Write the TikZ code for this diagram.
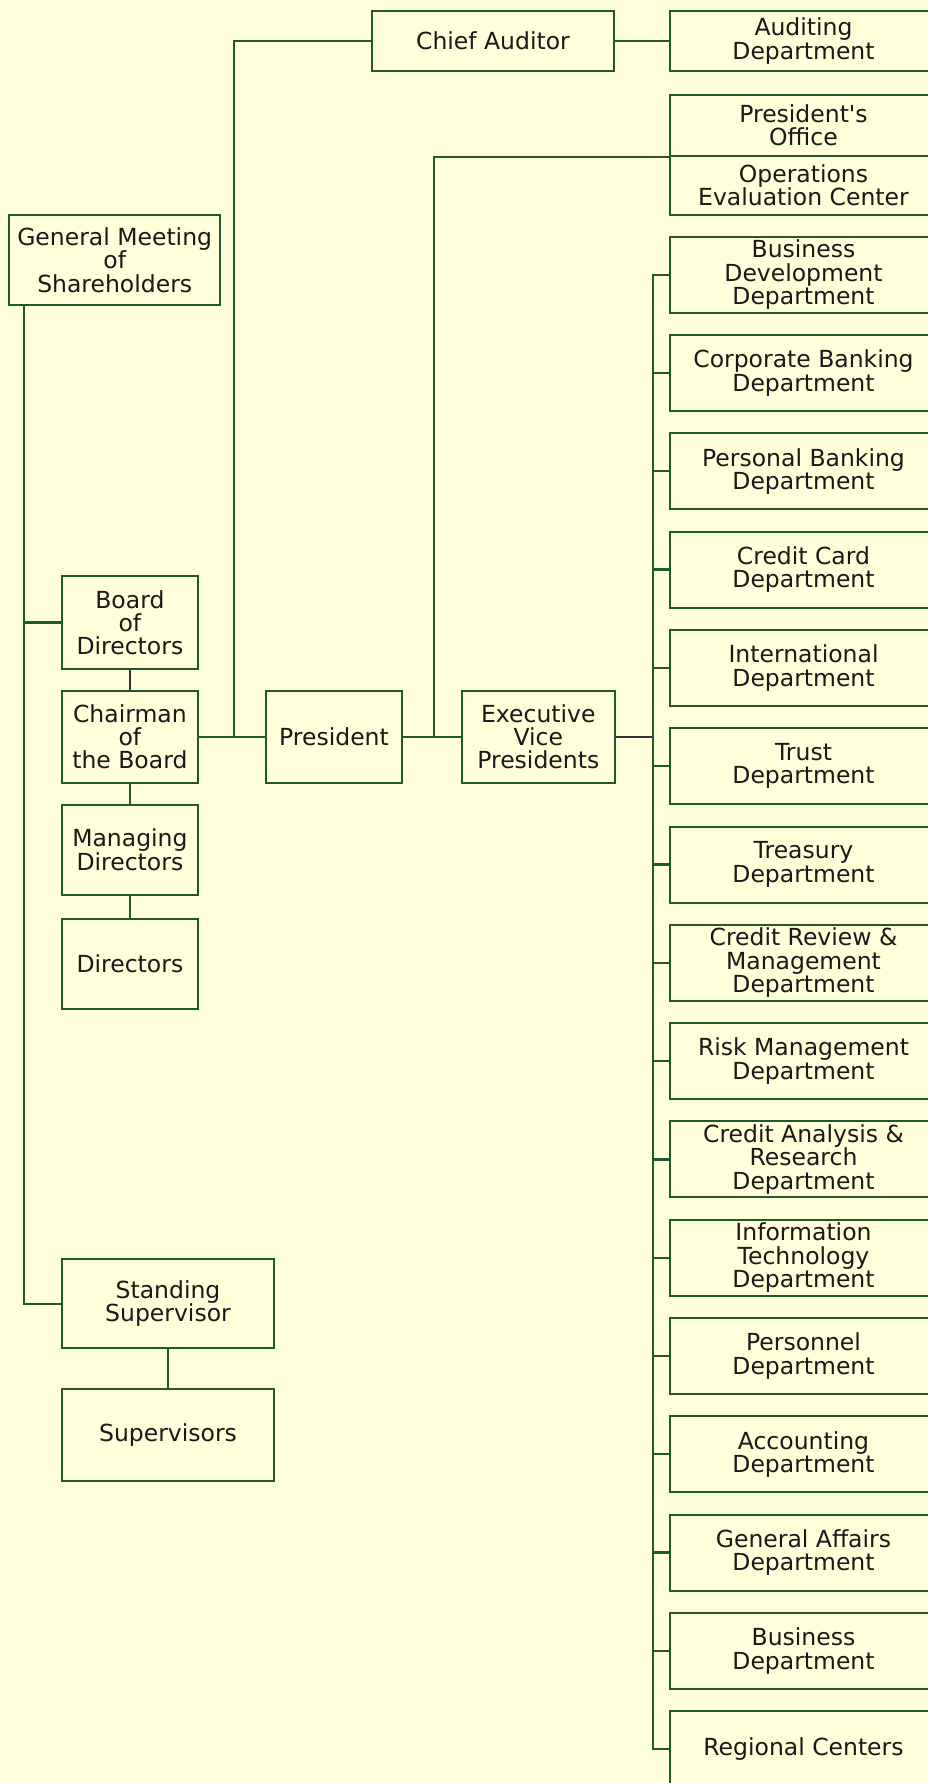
\documentclass[tikz,border=0pt]{standalone}
\usepackage{fontspec}
\setmainfont{DejaVu Sans}
\definecolor{bg}{HTML}{FFFFDA}
\definecolor{ln}{HTML}{1E5A2E}
\definecolor{gl}{HTML}{333333}
\begin{document}
\begin{tikzpicture}[x=1pt,y=-1pt,
  box/.style={draw=ln,line width=2pt,inner sep=0pt,align=center,
    font=\fontsize{23.5}{23.3}\selectfont,text=black!90},
  dept/.style={box,minimum width=267pt,minimum height=76pt},
  conn/.style={draw=ln,line width=2.3pt},
  gconn/.style={draw=gl,line width=2.3pt}]
\useasboundingbox (0,0) rectangle (928,1783);
\clip (0,0) rectangle (928,1783);
\fill[bg] (0,0) rectangle (928,1783);

% top
\node[box,minimum width=242pt,minimum height=60pt] (ca) at (493,41) {Chief Auditor};
\node[box,minimum width=267pt,minimum height=60pt] (aud) at (803.5,41) {Auditing\\Department};
\node[box,minimum width=267pt,minimum height=60.7pt] (po) at (803.5,125.3) {President\textquotesingle s\\Office};
\node[box,minimum width=267pt,minimum height=59.3pt] (oec) at (803.5,185.3) {Operations\\Evaluation Center};

% left column
\node[box,minimum width=210.5pt,minimum height=90pt] (gm) at (114.7,260) {General Meeting\\of\\Shareholders};
\node[box,minimum width=136.6pt,minimum height=92.7pt] (bod) at (129.9,622.6) {Board\\of\\Directors};
\node[box,minimum width=136.6pt,minimum height=92pt] (chair) at (129.9,736.7) {Chairman\\of\\the Board};
\node[box,minimum width=136.6pt,minimum height=90pt] (md) at (129.9,849.7) {Managing\\Directors};
\node[box,minimum width=136.6pt,minimum height=90pt] (dir) at (129.9,963.7) {Directors};
\node[box,minimum width=212.6pt,minimum height=89.3pt] (ss) at (168,1303.7) {Standing\\Supervisor};
\node[box,minimum width=212.6pt,minimum height=92pt] (sup) at (168,1434.7) {Supervisors};

% middle
\node[box,minimum width=136pt,minimum height=92pt] (pres) at (334,736.7) {President};
\node[box,minimum width=152.7pt,minimum height=92pt] (evp) at (538.3,736.7) {Executive\\Vice\\Presidents};

% departments
\foreach \t [count=\i] in {
  {Business\\Development\\Department},
  {Corporate Banking\\Department},
  {Personal Banking\\Department},
  {Credit Card\\Department},
  {International\\Department},
  {Trust\\Department},
  {Treasury\\Department},
  {Credit Review \&\\Management\\Department},
  {Risk Management\\Department},
  {Credit Analysis \&\\Research\\Department},
  {Information\\Technology\\Department},
  {Personnel\\Department},
  {Accounting\\Department},
  {General Affairs\\Department},
  {Business\\Department},
  {Regional Centers}} {
  \node[dept] (d\i) at (803.5,{274.7+98.3*(\i-1)}) {\t};
}

% helper columns
\coordinate (lv) at (23.7,0);
\coordinate (v1) at (233.8,0);
\coordinate (v2) at (433.8,0);
\coordinate (rt) at (653,0);

% connectors
\draw[conn] (lv |- gm.south) |- (ss.west);
\draw[conn] (lv |- bod.west) -- (bod.west);
\draw[gconn] (bod.south) -- (chair.north);
\draw[conn] (chair.south) -- (md.north);
\draw[conn] (md.south) -- (dir.north);
\draw[conn] (ss.south) -- (sup.north);
\draw[conn] (chair.east) -- (pres.west);
\draw[conn] (ca.west) -| (v1 |- chair.east);
\draw[conn] (ca.east) -- (aud.west);
\draw[conn] (pres.east) -- (evp.west);
\draw[conn] (po.south west) -| (v2 |- pres.east);
\draw[gconn] (evp.east) -- (rt |- evp.east);
\draw[conn] (d1.west) -| (rt |- d16.west) -- (d16.west);
\foreach \i in {2,...,15} \draw[conn] (rt |- d\i.west) -- (d\i.west);
\end{tikzpicture}
\end{document}
